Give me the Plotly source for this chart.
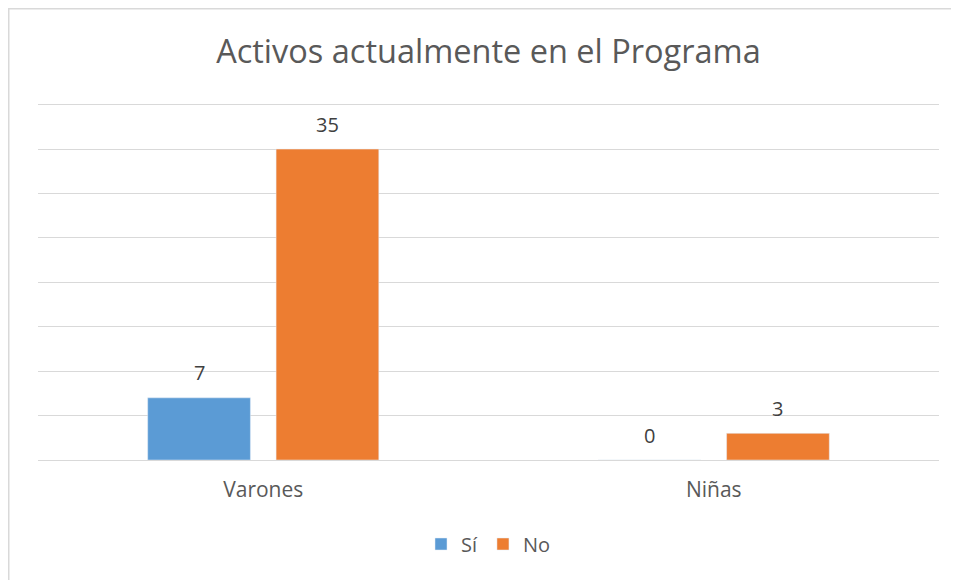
import plotly.graph_objects as go

categories = ["Varones", "Niñas"]
si_values = [7, 0]
no_values = [35, 3]
series_names = ["Sí", "No"]
colors = ["#5b9bd5", "#ed7d31"]

FONT = "Open Sans"
fig = go.Figure()
series = [si_values, no_values]
for name, vals, col in zip(series_names, series, colors):
    fig.add_trace(go.Bar(x=categories, y=vals, name=name, marker_color=col,
                         cliponaxis=False))

# data labels
annotations = []
for i, vals in enumerate(series):
    shift = -64 if i == 0 else 64
    for c, v in zip(categories, vals):
        annotations.append(dict(x=c, y=v, xref="x", yref="y", text=str(v), showarrow=False,
                                xshift=shift, yshift=25, yanchor="middle", xanchor="center",
                                font=dict(size=20, color="#404040", family=FONT)))

PLOT_H = 580 - 94 - 128
fig.update_layout(
    width=959, height=580,
    margin=dict(l=30, r=28, t=94, b=128),
    paper_bgcolor="white", plot_bgcolor="white",
    font=dict(family=FONT, color="#595959"),
    title=dict(text="Activos actualmente en el Programa", x=0.501, xanchor="center",
               y=1 - 44 / 580, yanchor="middle", font=dict(size=32.5, color="#595959", family=FONT)),
    barmode="group", bargap=0.43, bargroupgap=0.2,
    showlegend=True,
    legend=dict(orientation="h", x=0.5, xanchor="center", y=-84 / PLOT_H, yanchor="middle",
                font=dict(size=20, color="#595959"), traceorder="normal"),
    xaxis=dict(showgrid=False, showline=False, ticks="", ticklabelstandoff=15,
               tickfont=dict(size=21, color="#595959")),
    yaxis=dict(range=[0, 40.3], tickvals=[0, 5, 10, 15, 20, 25, 30, 35, 40], showticklabels=False,
               gridcolor="#d9d9d9", gridwidth=1.3,
               zeroline=True, zerolinecolor="#d9d9d9", zerolinewidth=1.3),
    annotations=annotations,
    shapes=[dict(type="rect", xref="paper", yref="paper",
                 x0=(0.75 - 30) / 901, x1=1.1, y0=-0.5, y1=(PLOT_H + 94 - 0.75) / PLOT_H,
                 line=dict(color="#d9d9d9", width=1.5), layer="below")],
)
fig.write_html("out.html")
